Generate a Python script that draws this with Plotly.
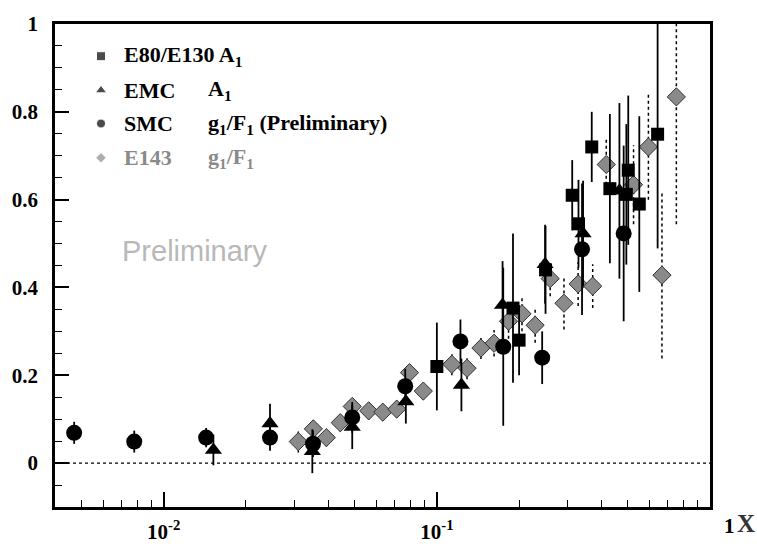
import plotly.graph_objects as go

# ---------------- data ----------------
smc_x = [0.0047, 0.0078, 0.0143, 0.0245, 0.0352, 0.049, 0.0766, 0.122, 0.175, 0.243, 0.34, 0.483]
smc_y = [0.069, 0.049, 0.058, 0.058, 0.044, 0.104, 0.175, 0.277, 0.265, 0.240, 0.487, 0.523]
smc_err = [0.025, 0.025, 0.022, 0.03, 0.03, 0.035, 0.04, 0.05, 0.18, 0.06, 0.15, 0.2]

emc_x = [0.0152, 0.0245, 0.035, 0.049, 0.077, 0.123, 0.174, 0.249, 0.343, 0.466]
emc_y = [0.03, 0.09, 0.027, 0.082, 0.14, 0.178, 0.36, 0.453, 0.523, 0.62]
emc_err = [0.035, 0.045, 0.05, 0.05, 0.05, 0.06, 0.1, 0.09, 0.12, 0.2]

e80_x = [0.100, 0.19, 0.20, 0.25, 0.313, 0.33, 0.369, 0.43, 0.494, 0.502, 0.551, 0.643]
e80_y = [0.22, 0.353, 0.28, 0.44, 0.61, 0.545, 0.72, 0.625, 0.612, 0.667, 0.59, 0.749]
e80_err = [0.10, 0.17, 0.08, 0.10, 0.08, 0.10, 0.08, 0.17, 0.16, 0.17, 0.2, 0.26]

e143_x = [0.0311, 0.0353, 0.0394, 0.0443, 0.049, 0.0563, 0.0634, 0.0713, 0.0794, 0.0892,
          0.1135, 0.129, 0.145, 0.162, 0.183, 0.205, 0.229, 0.26, 0.292, 0.329, 0.372,
          0.417, 0.525, 0.595, 0.667, 0.753]
e143_y = [0.049, 0.078, 0.058, 0.092, 0.129, 0.119, 0.116, 0.123, 0.206, 0.164,
          0.225, 0.216, 0.262, 0.273, 0.323, 0.34, 0.314, 0.42, 0.364, 0.408, 0.403,
          0.68, 0.634, 0.72, 0.428, 0.834]
e143_err = [0.025, 0.02, 0.02, 0.02, 0.02, 0.02, 0.02, 0.02, 0.02, 0.02,
            0.025, 0.025, 0.025, 0.03, 0.04, 0.04, 0.04, 0.04, 0.06, 0.05, 0.05,
            0.06, 0.09, 0.12, 0.19, 0.29]

x_major = [0.01, 0.1]
x_major_text = ["10<sup>-2</sup>", "10<sup>-1</sup>"]
x_minor = [0.005, 0.006, 0.007, 0.008, 0.009,
           0.02, 0.03, 0.04, 0.05, 0.06, 0.07, 0.08, 0.09,
           0.2, 0.3, 0.4, 0.5, 0.6, 0.7, 0.8, 0.9]
y_major = [0, 0.2, 0.4, 0.6, 0.8, 1]
y_major_text = ["0", "0.2", "0.4", "0.6", "0.8", "1"]

legend_names = ["E80/E130", "EMC", "SMC", "E143"]
legend_second = ["A<sub>1</sub>", "A<sub>1</sub>", "g<sub>1</sub>/F<sub>1</sub> (Preliminary)",
                 "g<sub>1</sub>/F<sub>1</sub>"]

# ---------------- layout geometry ----------------
W, H = 757, 556
L, R, T, B = 55, 47, 12, 49
PW, PH = W - L - R, H - T - B


def px(xp):
    return (xp - L) / PW


def py(yp):
    return (H - B - yp) / PH


SERIF = "Liberation Serif"
E143_COLOR = "#8a8a8a"

fig = go.Figure()

# E143 dotted error bars built from data
ex, ey = [], []
for xv, yv, ev in zip(e143_x, e143_y, e143_err):
    ex += [xv, xv, None]
    ey += [yv - ev, min(yv + ev, 1.0), None]
fig.add_trace(go.Scatter(x=ex, y=ey, mode="lines",
                         line=dict(color="black", width=1.5, dash="dot"),
                         hoverinfo="skip", showlegend=False))
fig.add_trace(go.Scatter(x=e143_x, y=e143_y, mode="markers",
                         marker=dict(symbol="diamond", size=14, color=E143_COLOR,
                                     line=dict(color="#333", width=1)),
                         showlegend=False, name="E143"))

errstyle = dict(type="data", color="black", thickness=1.8, width=0)
fig.add_trace(go.Scatter(x=e80_x, y=e80_y, mode="markers",
                         error_y=dict(array=e80_err, **errstyle),
                         marker=dict(symbol="square", size=13, color="black"),
                         showlegend=False, name="E80/E130"))
fig.add_trace(go.Scatter(x=emc_x, y=emc_y, mode="markers",
                         error_y=dict(array=emc_err, **errstyle),
                         marker=dict(symbol="triangle-up", size=15, color="black"),
                         showlegend=False, name="EMC"))
fig.add_trace(go.Scatter(x=smc_x, y=smc_y, mode="markers",
                         error_y=dict(array=smc_err, **errstyle),
                         marker=dict(symbol="circle", size=16, color="black"),
                         showlegend=False, name="SMC"))

# legend symbols on an invisible overlay axis (paper-like 0..1)
leg_rows_px = [45, 80, 114, 149]
leg_y = [py(v) for v in leg_rows_px]
leg_syms = ["square", "triangle-up", "circle", "diamond"]
leg_cols = ["black", "black", "black", E143_COLOR]
leg_sizes = [9, 10, 9, 8]
fig.add_trace(go.Scatter(x=[px(101)] * 4, y=leg_y, mode="markers",
                         marker=dict(symbol=leg_syms, color=leg_cols, size=leg_sizes),
                         xaxis="x2", yaxis="y2", showlegend=False, hoverinfo="skip"))

fig.add_hline(y=0, line=dict(color="black", width=1.2, dash="dot"))

LEG_SIZE = 22
annotations = []
for i, (n1, n2) in enumerate(zip(legend_names, legend_second)):
    col = E143_COLOR if i == 3 else "black"
    if i == 0:
        annotations.append(dict(x=px(122), y=leg_y[i], xref="paper", yref="paper",
                                text="<b>" + n1 + " " + n2 + "</b>", showarrow=False,
                                xanchor="left", yanchor="middle",
                                font=dict(family=SERIF, size=LEG_SIZE, color=col)))
    else:
        annotations.append(dict(x=px(122), y=leg_y[i], xref="paper", yref="paper",
                                text="<b>" + n1 + "</b>", showarrow=False,
                                xanchor="left", yanchor="middle",
                                font=dict(family=SERIF, size=LEG_SIZE, color=col)))
        annotations.append(dict(x=px(206), y=leg_y[i], xref="paper", yref="paper",
                                text="<b>" + n2 + "</b>", showarrow=False,
                                xanchor="left", yanchor="middle",
                                font=dict(family=SERIF, size=LEG_SIZE, color=col)))

annotations.append(dict(x=px(120), y=py(245), xref="paper", yref="paper",
                        text="Preliminary", showarrow=False, xanchor="left", yanchor="middle",
                        font=dict(family="Liberation Sans", size=29, color="#b8b8b8")))
annotations.append(dict(x=px(729), y=py(526), xref="paper", yref="paper",
                        text="<b>1</b>", showarrow=False, xanchor="center", yanchor="middle",
                        font=dict(family=SERIF, size=21, color="black")))
annotations.append(dict(x=px(746), y=py(524), xref="paper", yref="paper",
                        text="<b>X</b>", showarrow=False, xanchor="center", yanchor="middle",
                        font=dict(family=SERIF, size=25, color="#333")))

fig.update_layout(
    width=W, height=H,
    margin=dict(l=L, r=R, t=T, b=B, pad=0),
    paper_bgcolor="white", plot_bgcolor="white",
    showlegend=False,
    annotations=annotations,
    xaxis=dict(type="log", range=[-2.398, 0], showgrid=False, zeroline=False,
               showline=True, linecolor="black", linewidth=2.5, mirror=True,
               ticks="inside", ticklen=15, tickwidth=1.5, tickcolor="black",
               tickvals=x_major, ticktext=x_major_text,
               tickfont=dict(family=SERIF, size=21, color="black", weight="bold"),
               ticklabelstandoff=4,
               minor=dict(tickvals=x_minor, ticks="inside", ticklen=7,
                          tickwidth=1.2, tickcolor="black", showgrid=False)),
    yaxis=dict(range=[-0.1, 1.0], showgrid=False, zeroline=False,
               showline=True, linecolor="black", linewidth=2.5, mirror=True,
               ticks="inside", ticklen=14, tickwidth=1.5, tickcolor="black",
               tickvals=y_major, ticktext=y_major_text,
               tickfont=dict(family=SERIF, size=21, color="black", weight="bold"),
               ticklabelstandoff=10,
               minor=dict(dtick=0.05, tick0=0, ticks="inside", ticklen=7,
                          tickwidth=1.2, tickcolor="black", showgrid=False)),
    xaxis2=dict(overlaying="x", range=[0, 1], visible=False, fixedrange=True),
    yaxis2=dict(overlaying="y", range=[0, 1], visible=False, fixedrange=True),
)

fig.write_html("out.html")
